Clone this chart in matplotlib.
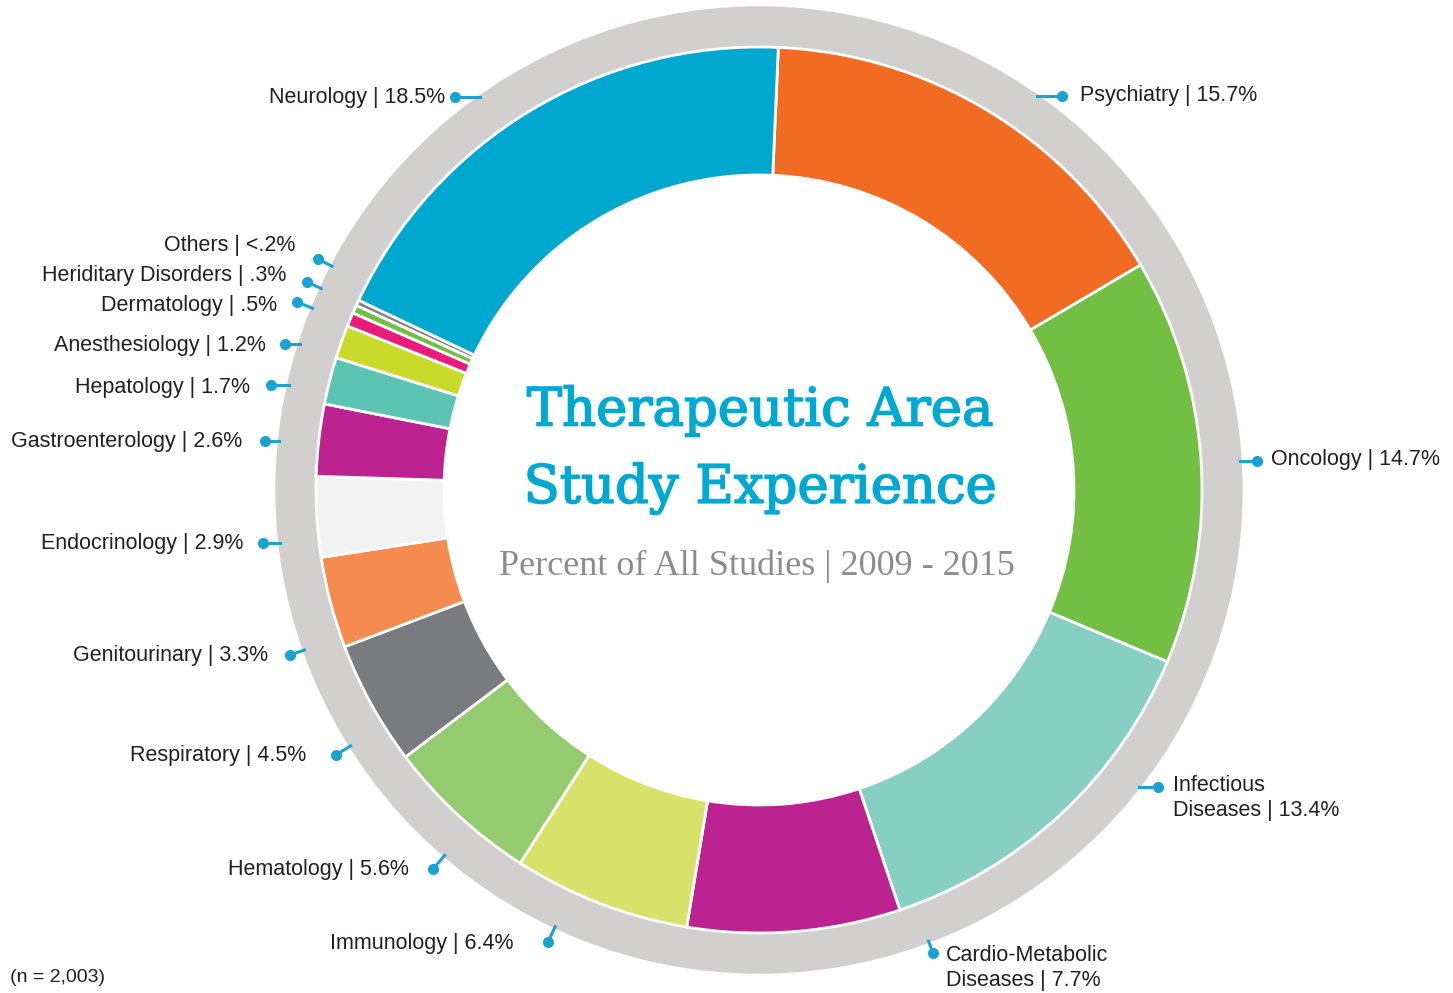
import numpy as np
import matplotlib
matplotlib.use("Agg")
import matplotlib.pyplot as plt
import matplotlib.patheffects as pe
from matplotlib.patches import Circle

# data, clockwise from the top
areas = ["Psychiatry", "Oncology", "Infectious Diseases", "Cardio-Metabolic Diseases",
         "Immunology", "Hematology", "Respiratory", "Genitourinary", "Endocrinology",
         "Gastroenterology", "Hepatology", "Anesthesiology", "Dermatology",
         "Heriditary Disorders", "Others", "Neurology"]
pct = [15.7, 14.7, 13.4, 7.7, 6.4, 5.6, 4.5, 3.3, 2.9, 2.6, 1.7, 1.2, 0.5, 0.3, 0.2, 18.5]
pct_text = ["15.7%", "14.7%", "13.4%", "7.7%", "6.4%", "5.6%", "4.5%", "3.3%", "2.9%",
            "2.6%", "1.7%", "1.2%", ".5%", ".3%", "<.2%", "18.5%"]
colors = ["#F26B22", "#72BF44", "#87CFC2", "#BC2390", "#D8E26A", "#94CB6E", "#7A7B7F",
          "#F68B4F", "#F2F2F2", "#BC2390", "#5BC4B3", "#C9DA2A", "#EC1A7A", "#72BF44",
          "#808285", "#00A7CF"]

W, H = 1453, 993
def py(y):
    return H - y

fig = plt.figure(figsize=(W / 100, H / 100), dpi=100)
ax = fig.add_axes([0, 0, 1, 1])

cx, cy = 759, py(490)
r_grey = 483
r_out = 443
r_in = 315

ax.add_patch(Circle((cx, cy), r_grey, color="#D1D0CF", zorder=0))
ax.pie(pct, colors=colors, radius=r_out, center=(cx, cy), startangle=87.5,
       counterclock=False, frame=True,
       wedgeprops=dict(width=r_out - r_in, edgecolor="white", linewidth=2))
ax.add_patch(Circle((cx, cy), r_in - 1, color="white", zorder=2))
ax.set_xlim(0, W)
ax.set_ylim(0, H)
ax.set_aspect("equal")
ax.axis("off")

# label placement: (text x, text y, dot x, dot y, align, leader direction)
lab_pos = {
    "Neurology": (445, 97, 455, 97, "right", "h"),
    "Others": (295, 246, 318, 259, "right", "r"),
    "Heriditary Disorders": (286, 276, 307, 282, "right", "r"),
    "Dermatology": (277, 305, 297, 302, "right", "r"),
    "Anesthesiology": (266, 346, 285, 344, "right", "h"),
    "Hepatology": (250, 387, 271, 385, "right", "h"),
    "Gastroenterology": (242, 442, 265, 441, "right", "h"),
    "Endocrinology": (243, 543, 263, 543, "right", "h"),
    "Genitourinary": (268, 656, 290, 655, "right", "r"),
    "Respiratory": (306, 755, 336, 755, "right", "r"),
    "Hematology": (409, 870, 433, 869, "right", "r"),
    "Immunology": (513, 943, 548, 942, "right", "r"),
    "Psychiatry": (1080, 95, 1062, 96, "left", "h"),
    "Oncology": (1271, 460, 1257, 461, "left", "h"),
    "Infectious Diseases": (1173, 798, 1158, 787, "left", "h"),
    "Cardio-Metabolic Diseases": (946, 968, 933, 953, "left", "r"),
}
two_line = {"Infectious Diseases": "Infectious\nDiseases",
            "Cardio-Metabolic Diseases": "Cardio-Metabolic\nDiseases"}

blue = "#1AA3CF"
r_end = r_grey - 1
for name, p in zip(areas, pct_text):
    tx, ty, dx, dy, ha, how = lab_pos[name]
    label = two_line.get(name, name) + " | " + p
    ax.text(tx, py(ty), label, ha=ha, va="center", fontsize=15.5,
            family="Liberation Sans", color="#231F20", linespacing=1.3)
    # leader toward the ring
    if how == "h":
        off = np.sqrt(r_end ** 2 - (py(dy) - cy) ** 2)
        ex = cx - off if dx < cx else cx + off
        ey = py(dy)
    else:
        vx, vy = dx - cx, py(dy) - cy
        d = np.hypot(vx, vy)
        ex, ey = cx + vx / d * r_end, cy + vy / d * r_end
    ax.plot([dx, ex], [py(dy), ey], color=blue, lw=2.2, zorder=3)
    ax.plot(dx, py(dy), "o", color=blue, markersize=7, zorder=4)

# centre titles
thick = [pe.withStroke(linewidth=1.2, foreground="#00A9D2")]
ax.text(cx + 1, py(411), "Therapeutic Area", ha="center", va="center",
        fontsize=38, family="DejaVu Serif", color="#00A9D2", zorder=5,
        path_effects=thick)
ax.text(cx + 1, py(489), "Study Experience", ha="center", va="center",
        fontsize=38, family="DejaVu Serif", color="#00A9D2", zorder=5,
        path_effects=thick)
ax.text(cx - 2, py(566), "Percent of All Studies | 2009 - 2015", ha="center", va="center",
        fontsize=26, family="Liberation Serif", color="#8C8C8C", zorder=5)

ax.text(10, py(978), "(n = 2,003)", ha="left", va="center", fontsize=14,
        family="Liberation Sans", color="#231F20")

fig.savefig("out.png", dpi=100, facecolor="white")
